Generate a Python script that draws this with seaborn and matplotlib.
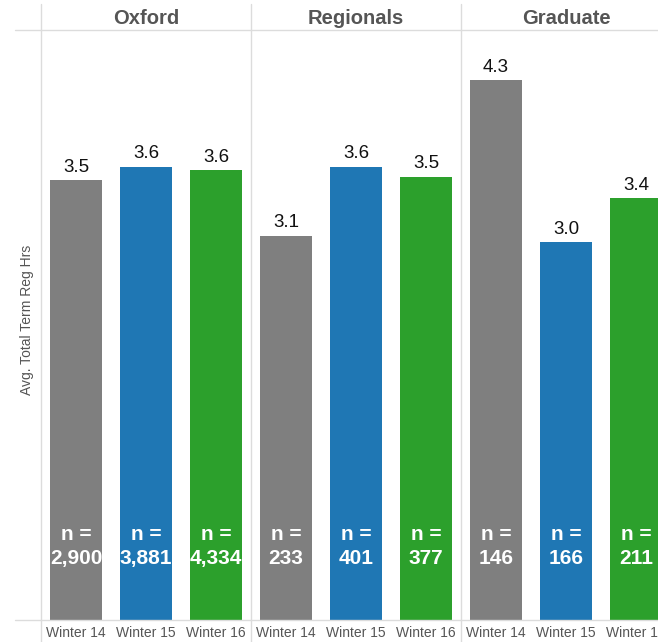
import matplotlib
matplotlib.use("Agg")
import matplotlib.pyplot as plt
from matplotlib.lines import Line2D
import pandas as pd
import seaborn as sns

# Data
panels = ["Oxford", "Regionals", "Graduate"]
terms = ["Winter 14", "Winter 15", "Winter 16"]
avg_hours = {
    "Oxford":    [3.50, 3.61, 3.58],
    "Regionals": [3.06, 3.61, 3.53],
    "Graduate":  [4.30, 3.01, 3.36],
}
counts = {
    "Oxford":    [2900, 3881, 4334],
    "Regionals": [233, 401, 377],
    "Graduate":  [146, 166, 211],
}
term_colors = ["#7f7f7f", "#1f77b4", "#2ca02c"]

rows = []
for p in panels:
    for t, v, n in zip(terms, avg_hours[p], counts[p]):
        rows.append({"panel": p, "term": t, "value": v, "n": n})
df = pd.DataFrame(rows)

sns.set_theme(style="white")
plt.rcParams["font.family"] = ["Liberation Sans", "DejaVu Sans"]

W, H = 658, 642
fig = plt.figure(figsize=(W / 100, H / 100), dpi=100)

def fx(px):
    return px / W

def fy(py):
    return 1 - py / H

grid_c = "#dcdcdc"
panel_left, panel_w = 41, 210
plot_top, plot_bottom = 30, 620
ymax = 4.697

axes = []
for i, p in enumerate(panels):
    left = panel_left + panel_w * i
    ax = fig.add_axes([fx(left), fy(plot_bottom), panel_w / W,
                       (plot_bottom - plot_top) / H])
    sub = df[df["panel"] == p]
    sns.barplot(data=sub, x="term", y="value", hue="term", order=terms,
                hue_order=terms, palette=term_colors, width=0.757,
                legend=False, ax=ax, saturation=1, errorbar=None,
                linewidth=0)
    ax.set_ylim(0, ymax)
    ax.set_xlim(-0.5, 2.5)
    for s in ax.spines.values():
        s.set_visible(False)
    ax.set_yticks([])
    ax.set_xlabel("")
    ax.set_ylabel("")
    ax.tick_params(axis="x", which="major", length=0, pad=4,
                   labelsize=10, labelcolor="#555555")
    ax.set_xticks([0.5, 1.5], minor=True)
    ax.tick_params(axis="x", which="minor", length=5, width=1,
                   color=grid_c, direction="out")
    for cont in ax.containers:
        ax.bar_label(cont, fmt="{:.1f}", padding=3, fontsize=13.5,
                     color="#111111")
    for j, (_, r) in enumerate(sub.iterrows()):
        ax.text(j, 0.585, f"n =\n{r['n']:,}", ha="center", va="center",
                color="white", fontsize=15, fontweight="bold",
                linespacing=1.3)
    # panel header
    fig.text(fx(left + panel_w / 2), fy(18), p, ha="center", va="center",
             fontsize=14.5, fontweight="bold", color="#555555")
    axes.append(ax)

# panel separators and header/baseline rules
for i in range(len(panels)):
    x = fx(panel_left + panel_w * i)
    fig.add_artist(Line2D([x, x], [fy(4), 0], color=grid_c, lw=1))
for yy in (plot_top, plot_bottom):
    fig.add_artist(Line2D([fx(15), 1], [fy(yy), fy(yy)], color=grid_c, lw=1))

fig.text(fx(27), fy(320), "Avg. Total Term Reg Hrs", rotation=90,
         ha="center", va="center", fontsize=10, color="#555555")

fig.savefig("out.png", dpi=100, facecolor="white")
